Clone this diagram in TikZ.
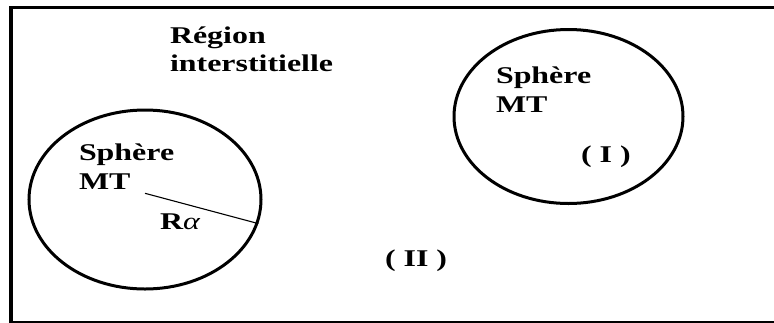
\documentclass[tikz,border=0pt]{standalone}
\usepackage{fontspec}
\usepackage{graphicx}
\setmainfont{Liberation Serif}
\usetikzlibrary{shapes.geometric}
\tikzset{
  lbl/.style={anchor=base west, inner sep=0pt, outer sep=0pt, font=\fontsize{24}{28.5}\selectfont\bfseries},
  sphere/.style={draw, ellipse, line width=3pt, inner sep=0pt},
  frameline/.style={line width=3.5pt},
  radiusline/.style={line width=1.1pt}
}
\newcommand{\hstr}[1]{\scalebox{1.33}[1]{#1}}
\newcommand{\twolines}[2]{\scalebox{1.33}[1]{\begin{tabular}[t]{@{}l@{}}#1\\#2\end{tabular}}}

\begin{document}
\begin{tikzpicture}[x=1pt,y=-1pt]
\useasboundingbox (0,0) rectangle (774,322);
\clip (0,0) rectangle (774,322);
\fill[white] (0,0) rectangle (774,322);
\draw[frameline] (11,7.5) rectangle (830,323);

\node[sphere, minimum width=232pt, minimum height=179pt] (L) at (145,199.5) {};
\node[sphere, minimum width=229pt, minimum height=174pt] (R) at (568.5,116.5) {};

\node[lbl] (reg) at (170,43) {\twolines{Région}{interstitielle}};
\node[lbl] (sl) at (79,160.5) {\twolines{Sphère}{MT}};
\node[lbl] (sr) at (496,83.5) {\twolines{Sphère}{MT}};
\node[lbl] (one) at (581,162) {\hstr{( I )}};
\node[lbl] (two) at (385,266) {\hstr{( II )}};
\node[lbl] (ra) at (160,229) {\hstr{R{\mdseries\itshape α}}};

\coordinate (c) at (145,193.3);
\draw[radiusline] (c) -- (L.-12.6);
\end{tikzpicture}
\end{document}
